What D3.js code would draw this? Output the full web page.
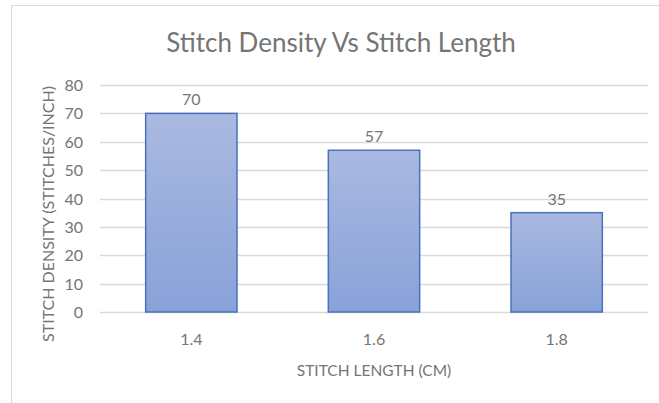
<!DOCTYPE html>
<html><head><meta charset="utf-8">
<script src="https://cdn.jsdelivr.net/npm/d3@7"></script>
<style>body{margin:0;background:#fff}svg{display:block}text{font-family:Lato,"Open Sans",sans-serif;fill:#757575}</style>
</head><body>
<svg id="c" width="659" height="403"></svg>
<script>
const categories = ["1.4","1.6","1.8"];
const values = [70,57,35];
const yTicks = [0,10,20,30,40,50,60,70,80];
const title = "Stitch Density Vs Stitch Length";
const xTitle = "STITCH LENGTH (CM)";
const yTitle = "STITCH DENSITY (STITCHES/INCH)";

const svg = d3.select("#c");
svg.append("rect").attr("x",11.5).attr("y",5.5).attr("width",700).attr("height",420)
  .attr("fill","#fff").attr("stroke","#d9d9d9");

const defs = svg.append("defs");
const g = defs.append("linearGradient").attr("id","bg").attr("x1",0).attr("y1",0).attr("x2",0).attr("y2",1);
g.append("stop").attr("offset","0%").attr("stop-color","#aab9e0");
g.append("stop").attr("offset","100%").attr("stop-color","#88a2d9");

const L=100,R=648,T=85,B=312;
const x = d3.scaleBand().domain(categories).range([L,R]).paddingInner(0.5).paddingOuter(0.25);
const y = d3.scaleLinear().domain([0,80]).range([B,T]);

svg.append("g").selectAll("line").data(yTicks).join("line")
  .attr("x1",L).attr("x2",R).attr("y1",d=>Math.round(y(d))+0.5).attr("y2",d=>Math.round(y(d))+0.5)
  .attr("stroke","#d9d9d9").attr("stroke-width",1.3);

svg.append("g").selectAll("text").data(yTicks).join("text")
  .attr("x",83).attr("y",d=>y(d)+6).attr("text-anchor","end").attr("font-size",16).text(d=>d);

svg.append("g").selectAll("rect").data(values).join("rect")
  .attr("x",(d,i)=>x(categories[i])).attr("width",x.bandwidth())
  .attr("y",d=>y(d)).attr("height",d=>y(0)-y(d))
  .attr("fill","url(#bg)").attr("stroke","#4a70c0").attr("stroke-width",1.5);

svg.append("g").selectAll("text").data(values).join("text")
  .attr("x",(d,i)=>x(categories[i])+x.bandwidth()/2).attr("y",d=>y(d)-8)
  .attr("text-anchor","middle").attr("font-size",16).text(d=>d);

svg.append("g").selectAll("text").data(categories).join("text")
  .attr("x",d=>x(d)+x.bandwidth()/2).attr("y",345)
  .attr("text-anchor","middle").attr("font-size",16).text(d=>d);

svg.append("text").attr("x",374).attr("y",376).attr("text-anchor","middle").attr("font-size",15.5).text(xTitle);
svg.append("text").attr("transform","translate(54,214) rotate(-90)").attr("text-anchor","middle").attr("font-size",16).text(yTitle);
svg.append("text").attr("x",341).attr("y",52).attr("text-anchor","middle").attr("font-size",26).text(title);
</script>
</body></html>
